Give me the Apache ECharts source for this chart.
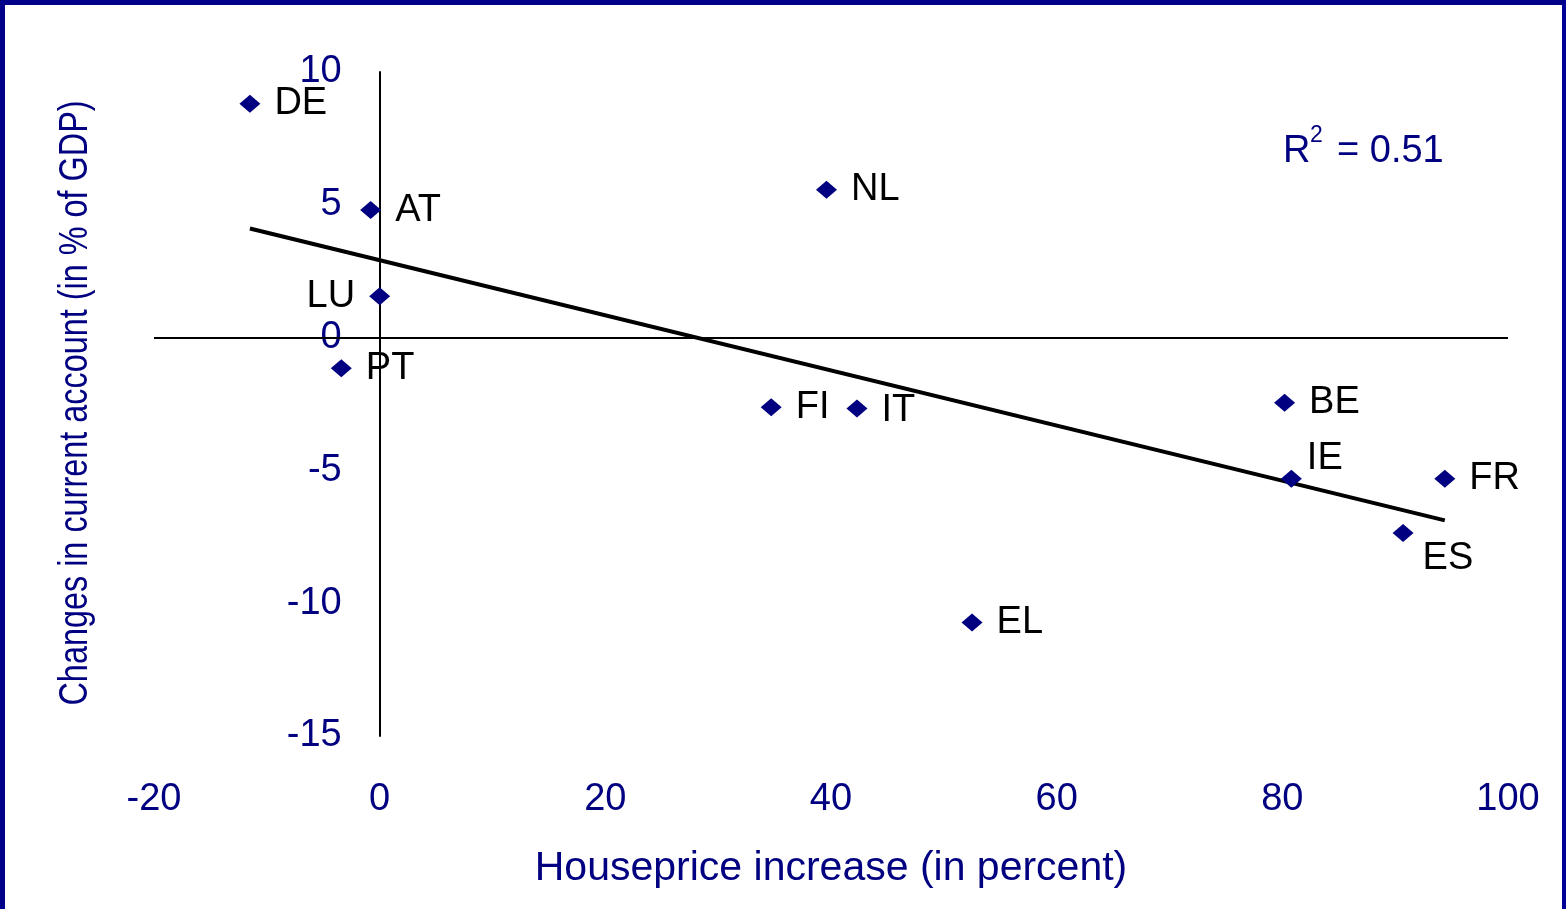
<!DOCTYPE html>
<html>
<head>
<meta charset="utf-8">
<title>House prices and current account changes</title>
<script src="https://cdn.jsdelivr.net/npm/echarts@6/dist/echarts.min.js"></script>
<style>
  html, body { margin: 0; padding: 0; background: #ffffff; }
  #chart { position: absolute; left: 0; top: 0; width: 1566px; height: 909px; }
  #frame {
    position: absolute; left: 0; top: 0; width: 1566px; height: 909px;
    box-sizing: border-box; pointer-events: none;
    border-top: 5px solid #000088; border-left: 5px solid #000088;
    border-right: 4px solid #000099;
  }
</style>
</head>
<body>
<div id="chart"></div>
<div id="frame"></div>
<script>
// Euro-area countries: house price increase vs. change in current account
const countries = ['DE', 'AT', 'LU', 'PT', 'NL', 'FI', 'IT', 'EL', 'BE', 'IE', 'FR', 'ES'];
const housePriceIncrease = [-11.5, -0.8, 0.0, -3.4, 39.6, 34.7, 42.3, 52.5, 80.2, 80.8, 94.4, 90.7];
const currentAccountChange = [8.8, 4.8, 1.56, -1.15, 5.57, -2.62, -2.67, -10.73, -2.45, -5.31, -5.31, -7.36];

const xTicks = { min: -20, max: 100, step: 20 };
const yTicks = { min: -15, max: 10, step: 5 };
const rSquaredText = '0.51';

const NAVY = '#000080';
const FONT = "'Liberation Sans', Arial, sans-serif";

const GRID = { left: 154, right: 58, top: 72, bottom: 173 };
const CHART_W = 1566;

// Least-squares trend line over the observed range of x
function trendLine(xs, ys) {
  const n = xs.length;
  const mx = xs.reduce((a, b) => a + b, 0) / n;
  const my = ys.reduce((a, b) => a + b, 0) / n;
  let sxy = 0, sxx = 0;
  for (let i = 0; i < n; i++) {
    sxy += (xs[i] - mx) * (ys[i] - my);
    sxx += (xs[i] - mx) * (xs[i] - mx);
  }
  const slope = sxy / sxx;
  const icpt = my - slope * mx;
  const x0 = Math.min(...xs), x1 = Math.max(...xs);
  return [[x0, icpt + slope * x0], [x1, icpt + slope * x1]];
}

// The y axis crosses the x axis at x = 0, so shift it inside the grid
const gridWidth = CHART_W - GRID.left - GRID.right;
const yAxisShift = -((0 - xTicks.min) / (xTicks.max - xTicks.min)) * gridWidth;

// Label placement tweaks for crowded points
const labelTweaks = {
  LU: { position: 'left' },
  IT: { offset: [0, 2] },
  IE: { offset: [-9, -20] },
  ES: { offset: [-5, 25] }
};

const points = countries.map((c, i) => {
  const item = { name: c, value: [housePriceIncrease[i], currentAccountChange[i]] };
  if (labelTweaks[c]) item.label = labelTweaks[c];
  return item;
});

const chart = echarts.init(document.getElementById('chart'), null, { renderer: 'canvas' });

chart.setOption({
  animation: false,
  backgroundColor: '#ffffff',
  grid: Object.assign({ containLabel: false }, GRID),
  xAxis: {
    type: 'value',
    min: xTicks.min, max: xTicks.max, interval: xTicks.step,
    axisLine: { show: false },
    axisTick: { show: false },
    splitLine: { show: false },
    axisLabel: { color: NAVY, fontSize: 38, fontFamily: FONT, margin: 45 },
    name: 'Houseprice increase (in percent)',
    nameLocation: 'middle',
    nameGap: 112,
    nameTextStyle: { color: NAVY, fontSize: 41, fontFamily: FONT }
  },
  yAxis: {
    type: 'value',
    position: 'left',
    offset: yAxisShift,
    min: yTicks.min, max: yTicks.max, interval: yTicks.step,
    axisLine: { show: true, onZero: false, lineStyle: { color: '#000000', width: 2 } },
    axisTick: { show: false },
    splitLine: { show: false },
    axisLabel: { color: NAVY, fontSize: 38, fontFamily: FONT, margin: 38, padding: [5, 0, 0, 0] }
  },
  graphic: [
    {
      type: 'text',
      x: 76, y: 403,
      rotation: Math.PI / 2,
      scaleX: 0.81,
      style: {
        text: 'Changes in current account (in % of GDP)',
        fill: NAVY,
        font: "40px 'Liberation Sans', Arial, sans-serif",
        textAlign: 'center',
        textVerticalAlign: 'middle'
      }
    },
    {
      type: 'text', x: 1283, y: 152,
      style: { text: 'R', fill: NAVY, font: "38px 'Liberation Sans', Arial, sans-serif", textVerticalAlign: 'middle' }
    },
    {
      type: 'text', x: 1310, y: 136,
      style: { text: '2', fill: NAVY, font: "23px 'Liberation Sans', Arial, sans-serif", textVerticalAlign: 'middle' }
    },
    {
      type: 'text', x: 1337, y: 152,
      style: { text: '= ' + rSquaredText, fill: NAVY, font: "38px 'Liberation Sans', Arial, sans-serif", textVerticalAlign: 'middle' }
    }
  ],
  series: [
    {
      // horizontal zero line across the plot
      type: 'line',
      data: [],
      silent: true,
      markLine: {
        symbol: 'none',
        silent: true,
        label: { show: false },
        lineStyle: { color: '#000000', width: 2, type: 'solid', opacity: 1 },
        data: [{ yAxis: 0 }]
      }
    },
    {
      type: 'line',
      data: trendLine(housePriceIncrease, currentAccountChange),
      symbol: 'none',
      lineStyle: { color: '#000000', width: 4 },
      z: 3
    },
    {
      type: 'scatter',
      data: points,
      symbol: 'diamond',
      symbolSize: [21, 18],
      itemStyle: { color: NAVY, opacity: 1 },
      z: 4,
      label: {
        show: true,
        position: 'right',
        distance: 14,
        padding: [4, 0, 0, 0],
        formatter: p => p.name,
        color: '#000000',
        opacity: 1,
        fontSize: 38,
        fontFamily: FONT
      }
    }
  ]
});
</script>
</body>
</html>
